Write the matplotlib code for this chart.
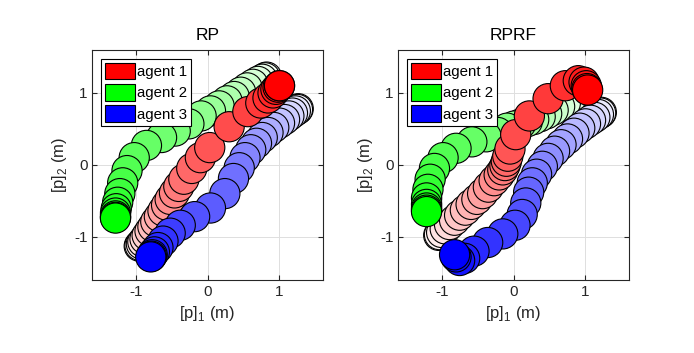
import matplotlib
matplotlib.use("Agg")
import matplotlib.pyplot as plt
from matplotlib.patches import Circle, Patch

plt.rcParams['font.family'] = ['Liberation Sans', 'DejaVu Sans']
plt.rcParams['mathtext.fontset'] = 'custom'
plt.rcParams['mathtext.rm'] = 'Liberation Sans'

titles = ['RP', 'RPRF']
agent_names = ['agent 1', 'agent 2', 'agent 3']
agent_colors = [(1, 0, 0), (0, 1, 0), (0, 0, 1)]
tick_vals = [-1, 0, 1]
tick_labels = ['-1', '0', '1']
radius = 0.21

# RP trajectories (time ordered)
rp_x1 = [-0.95, -0.94, -0.92, -0.90, -0.87, -0.84, -0.80, -0.76, -0.72, -0.67, -0.62, -0.57,
         -0.52, -0.46, -0.40, -0.33, -0.22, -0.10, 0.03, 0.30, 0.56, 0.74, 0.84, 0.91, 0.95,
         0.98, 1.00, 1.00]
rp_y1 = [-1.13, -1.12, -1.10, -1.07, -1.03, -0.98, -0.92, -0.86, -0.79, -0.72, -0.64, -0.56,
         -0.48, -0.39, -0.30, -0.20, -0.05, 0.10, 0.24, 0.53, 0.74, 0.86, 0.93, 1.00, 1.05,
         1.08, 1.10, 1.10]
rp_x2 = [0.82, 0.80, 0.76, 0.70, 0.63, 0.55, 0.46, 0.37, 0.27, 0.16, 0.04, -0.09, -0.26,
         -0.45, -0.64, -0.85, -1.02, -1.12, -1.18, -1.22, -1.25, -1.27, -1.28, -1.28, -1.28,
         -1.28]
rp_y2 = [1.22, 1.21, 1.19, 1.16, 1.12, 1.07, 1.01, 0.95, 0.89, 0.82, 0.75, 0.68, 0.57,
         0.47, 0.38, 0.27, 0.10, -0.08, -0.25, -0.40, -0.52, -0.61, -0.67, -0.71, -0.73,
         -0.74]
rp_x3 = [1.26, 1.25, 1.22, 1.18, 1.13, 1.07, 1.00, 0.92, 0.84, 0.76, 0.68, 0.60, 0.52,
         0.44, 0.36, 0.24, 0.04, -0.18, -0.38, -0.52, -0.62, -0.69, -0.74, -0.77, -0.78,
         -0.79]
rp_y3 = [0.78, 0.77, 0.75, 0.72, 0.68, 0.63, 0.58, 0.52, 0.45, 0.38, 0.30, 0.21, 0.10,
         -0.04, -0.19, -0.40, -0.60, -0.72, -0.84, -0.95, -1.06, -1.15, -1.21, -1.25, -1.27,
         -1.28]

# RPRF trajectories (time ordered)
rprf_x1 = [-1.04, -1.03, -1.00, -0.95, -0.89, -0.82, -0.75, -0.67, -0.59, -0.51, -0.43,
           -0.35, -0.27, -0.20, -0.15, -0.12, -0.10, -0.08, -0.05, 0.03, 0.22, 0.48, 0.72,
           0.90, 0.98, 1.01, 1.02, 1.03]
rprf_y1 = [-0.98, -0.97, -0.94, -0.89, -0.83, -0.77, -0.70, -0.63, -0.55, -0.48, -0.40,
           -0.31, -0.22, -0.14, -0.07, -0.01, 0.05, 0.12, 0.22, 0.42, 0.68, 0.92, 1.10,
           1.17, 1.15, 1.10, 1.06, 1.04]
rprf_x2 = [0.86, 0.84, 0.79, 0.72, 0.64, 0.55, 0.46, 0.37, 0.28, 0.19, 0.10, 0.01, -0.09,
           -0.22, -0.38, -0.58, -0.80, -0.98, -1.10, -1.16, -1.19, -1.21, -1.21, -1.21,
           -1.21, -1.21]
rprf_y2 = [0.97, 0.95, 0.91, 0.86, 0.81, 0.76, 0.71, 0.67, 0.63, 0.60, 0.57, 0.54, 0.51,
           0.45, 0.39, 0.32, 0.23, 0.10, -0.05, -0.20, -0.34, -0.46, -0.55, -0.60, -0.63,
           -0.65]
rprf_x3 = [1.22, 1.21, 1.18, 1.13, 1.07, 1.00, 0.92, 0.84, 0.75, 0.66, 0.57, 0.48, 0.40,
           0.32, 0.26, 0.21, 0.17, 0.12, 0.02, -0.15, -0.36, -0.55, -0.68, -0.75, -0.80,
           -0.82]
rprf_y3 = [0.73, 0.72, 0.70, 0.66, 0.62, 0.57, 0.51, 0.44, 0.36, 0.28, 0.19, 0.09, -0.02,
           -0.13, -0.25, -0.38, -0.53, -0.69, -0.84, -0.96, -1.08, -1.20, -1.30, -1.33,
           -1.28, -1.25]

panels = [
    [(rp_x1, rp_y1), (rp_x2, rp_y2), (rp_x3, rp_y3)],
    [(rprf_x1, rprf_y1), (rprf_x2, rprf_y2), (rprf_x3, rprf_y3)],
]

fig = plt.figure(figsize=(6.94, 3.53), dpi=100)
axes_pos = [[0.1326, 0.207, 0.333, 0.652], [0.5735, 0.207, 0.333, 0.652]]

for ax_idx, trajs in enumerate(panels):
    ax = fig.add_axes(axes_pos[ax_idx])
    n_max = max(len(x) for x, y in trajs)
    # draw interleaved in time so later circles sit on top
    for k in range(n_max):
        for a, (xs, ys) in enumerate(trajs):
            if k >= len(xs):
                continue
            t = k / (len(xs) - 1)
            c = agent_colors[a]
            face = tuple(1 - t * (1 - ci) for ci in c)
            ax.add_patch(Circle((xs[k], ys[k]), radius, facecolor=face,
                                edgecolor='black', linewidth=0.8, zorder=2 + k))
    ax.set_xlim(-1.6, 1.6)
    ax.set_ylim(-1.6, 1.6)
    ax.set_aspect('equal', adjustable='box')
    ax.set_xticks(tick_vals, tick_labels)
    ax.set_yticks(tick_vals, tick_labels)
    ax.tick_params(direction='in', top=True, right=True, length=3.5, labelsize=11,
                   colors='#262626', labelcolor='#262626')
    ax.grid(True, color='#dedede', linewidth=0.7, zorder=0)
    ax.set_axisbelow(True)
    for sp in ax.spines.values():
        sp.set_color('#262626')
        sp.set_linewidth(0.8)
    ax.set_title(titles[ax_idx], fontsize=12.5, color='black', pad=7)
    ax.set_xlabel(r'[p]$_\mathregular{1}$ (m)', fontsize=12, color='#262626')
    ax.set_ylabel(r'[p]$_\mathregular{2}$ (m)', fontsize=12, color='#262626')

    handles = [Patch(facecolor=agent_colors[a], edgecolor='black', linewidth=0.8,
                     label=agent_names[a]) for a in range(3)]
    leg = ax.legend(handles=handles, loc='upper left', fontsize=10.8, fancybox=False,
                    framealpha=1, edgecolor='black', handlelength=2.0, handleheight=1.35,
                    handletextpad=0.15, labelspacing=0.3, borderpad=0.25,
                    borderaxespad=0.6)
    leg.get_frame().set_linewidth(0.8)
    leg.set_zorder(200)

fig.savefig('out.png', dpi=100)
